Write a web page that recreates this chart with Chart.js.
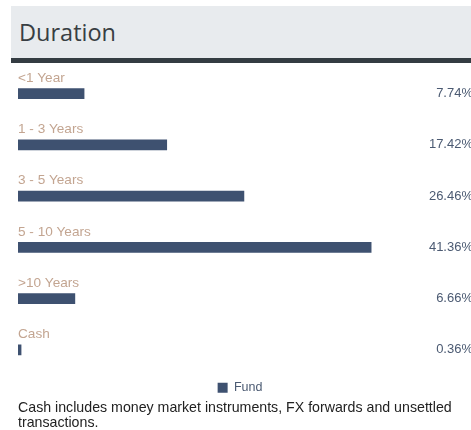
<!DOCTYPE html>
<html>
<head>
<meta charset="utf-8">
<script src="https://cdn.jsdelivr.net/npm/chart.js@4"></script>
<style>
  body { margin: 0; width: 471px; height: 430px; background: #fff; font-family: "Liberation Sans", Arial, sans-serif; position: relative; overflow: hidden; }
  .header { position: absolute; left: 11px; top: 6px; width: 460px; height: 52px; background: #e8ebee; border-bottom: 5px solid #343c42; box-sizing: content-box; }
  .header h2 { margin: 0; position: absolute; left: 8px; top: 10px; font: 23.5px "Open Sans", sans-serif; color: #383e43; }
  .chart-box { position: absolute; left: 0; top: 63px; width: 475px; height: 341px; }
  .note { position: absolute; left: 18px; top: 400px; width: 452px; font-size: 14.2px; line-height: 15px; color: #222; }
</style>
</head>
<body>
<div class="header"><h2>Duration</h2></div>
<div class="chart-box"><canvas id="durationChart"></canvas></div>
<div class="note">Cash includes money market instruments, FX forwards and unsettled transactions.</div>
<script>
const categories = ["<1 Year", "1 - 3 Years", "3 - 5 Years", "5 - 10 Years", ">10 Years", "Cash"];
const fundValues = [7.74, 17.42, 26.46, 41.36, 6.66, 0.36];
const valueLabels = ["7.74%", "17.42%", "26.46%", "41.36%", "6.66%", "0.36%"];

// draws the category name above each bar and the value at the right edge
const rowLabels = {
  id: "rowLabels",
  afterDatasetsDraw(chart) {
    const ctx = chart.ctx;
    const meta = chart.getDatasetMeta(0);
    ctx.save();
    ctx.textBaseline = "middle";
    meta.data.forEach((bar, i) => {
      ctx.font = '13.6px "Liberation Sans", Arial, sans-serif';
      ctx.fillStyle = "#c3a591";
      ctx.textAlign = "left";
      ctx.fillText(categories[i], chart.chartArea.left, bar.y - 15.5);
      ctx.font = '13px "Liberation Sans", Arial, sans-serif';
      ctx.fillStyle = "#4b5a72";
      ctx.textAlign = "right";
      ctx.fillText(valueLabels[i], chart.width - 2, bar.y);
    });
    ctx.restore();
  }
};

document.addEventListener("DOMContentLoaded", function () {
  const ctx = document.getElementById("durationChart").getContext("2d");

  new Chart(ctx, {
    type: "bar",
    data: {
      labels: categories,
      datasets: [
        {
          label: "Fund",
          data: fundValues,
          backgroundColor: "#3e5170",
          barThickness: 10,
        },
      ],
    },
    options: {
      indexAxis: "y",
      responsive: true,
      maintainAspectRatio: false,
      animation: false,
      layout: { padding: { left: 18, right: 13, top: 5, bottom: 0 } },
      scales: {
        x: { display: false, min: 0, max: 52 },
        y: { display: false },
      },
      plugins: {
        tooltip: { enabled: false },
        legend: {
          position: "bottom",
          labels: {
            boxWidth: 10,
            boxHeight: 10,
            padding: 6,
            color: "#4b5a72",
            font: { size: 12.5, family: '"Liberation Sans", Arial, sans-serif' },
          },
        },
      },
    },
    plugins: [rowLabels],
  });
});
</script>
</body>
</html>
